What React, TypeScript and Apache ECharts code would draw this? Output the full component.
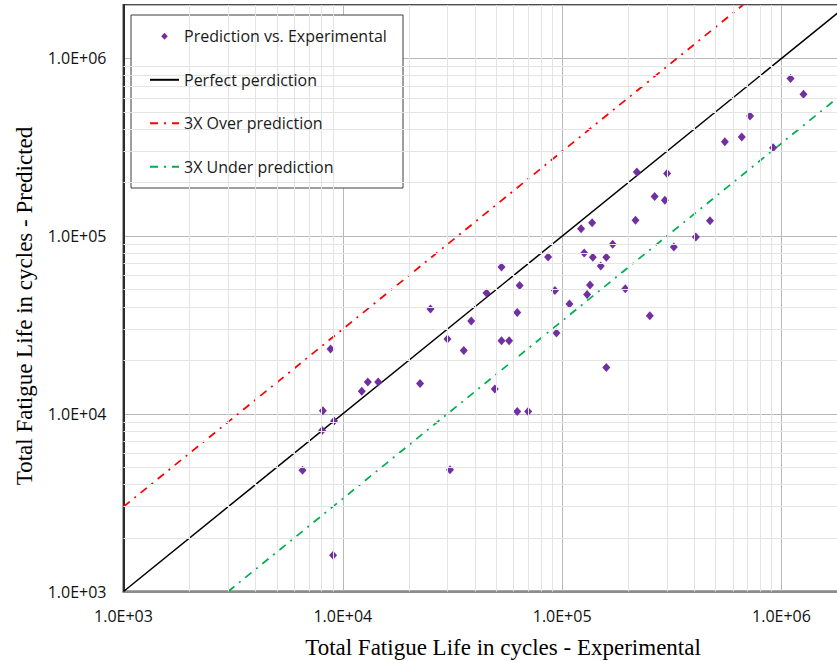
import React, { useEffect, useRef } from "react";
import * as echarts from "echarts";

// Scatter data
const EXPERIMENTAL = [6550, 8050, 8110, 8790, 9030, 9120, 12200, 13000, 14500, 22500, 25100, 30000, 30800, 35600, 38500, 45200, 49300, 52900, 52900, 57300, 62400, 62400, 64000, 70000, 86300, 92700, 94200, 108000, 122000, 126000, 130000, 134000, 137000, 138000, 150000, 159000, 159000, 170000, 194000, 216000, 219000, 251000, 264000, 294000, 301000, 323000, 407000, 472000, 552000, 659000, 719000, 916000, 1100000, 1260000];
const PREDICTED = [4820, 8050, 10400, 23200, 1600, 9100, 13400, 15100, 15100, 14800, 38900, 26400, 4840, 22700, 33300, 47900, 13800, 67000, 25800, 25800, 37200, 10300, 52800, 10300, 76400, 49500, 28500, 41500, 110000, 80400, 47000, 53100, 119000, 76000, 67900, 18200, 76000, 89900, 50500, 123000, 230000, 35600, 167000, 159000, 225000, 86900, 98900, 122000, 340000, 361000, 475000, 314000, 771000, 630000];

// Reference lines
const PERFECT_X = [1000, 2000000];
const PERFECT_Y = [1000, 2000000];
const OVER_X = [1000, 666667];
const OVER_Y = [3000, 2000000];
const UNDER_X = [3000, 2000000];
const UNDER_Y = [1000, 666667];

// Axes
const AXIS_MIN = 1000;
const AXIS_MAX = 2000000;
const DECADES = [1000, 10000, 100000, 1000000];
const MINOR_MULTIPLIERS = [2, 3, 4, 5, 6, 7, 8, 9];

const SERIES_NAMES = [
  "Prediction vs. Experimental",
  "Perfect perdiction",
  "3X Over prediction",
  "3X Under prediction",
];

const PURPLE = "#7030a0";

const zip = (xs: number[], ys: number[]) => xs.map((x, i) => [x, ys[i]]);

const formatTick = (v: number) => {
  const e = Math.log10(v);
  const r = Math.round(e);
  if (Math.abs(e - r) > 1e-6) return "";
  return "1.0E+" + (r < 10 ? "0" + r : String(r));
};

const diamondIconSvg =
  "<svg xmlns='http://www.w3.org/2000/svg' width='29' height='8' viewBox='0 0 29 8'>" +
  "<path d='M14.5 0.5 L17.8 4 L14.5 7.5 L11.2 4 Z' fill='" + PURPLE + "'/></svg>";
const DIAMOND_ICON = "image://data:image/svg+xml;utf8," + encodeURIComponent(diamondIconSvg);

export default function App() {
  const ref = useRef<HTMLDivElement>(null);

  useEffect(() => {
    if (!ref.current) return;
    const chart = echarts.init(ref.current, undefined, { renderer: "svg" });

    const minorValues: number[] = [];
    DECADES.forEach((d) =>
      MINOR_MULTIPLIERS.forEach((m) => {
        if (d * m < AXIS_MAX) minorValues.push(d * m);
      })
    );
    const minorLines = [
      ...minorValues.map((v) => ({ xAxis: v })),
      ...minorValues.map((v) => ({ yAxis: v })),
    ];

    const labelFont = {
      fontFamily: "'Open Sans', sans-serif",
      fontSize: 16,
      color: "#111111",
    };

    const hiddenDot = { color: "rgba(0,0,0,0)", borderWidth: 0 };

    const option: any = {
      animation: false,
      backgroundColor: "#ffffff",
      grid: {
        left: 123.5,
        top: 5,
        width: 724,
        height: 586.5,
        show: true,
        borderColor: "#4d4d4d",
        borderWidth: 2,
        backgroundColor: "#ffffff",
        containLabel: false,
        outerBoundsMode: "none",
      },
      xAxis: {
        type: "log",
        logBase: 10,
        min: AXIS_MIN,
        max: AXIS_MAX,
        axisLine: { show: true, lineStyle: { color: "#8c8c8c", width: 2 } },
        axisTick: { show: false },
        axisLabel: { ...labelFont, margin: 16, formatter: formatTick },
        splitLine: { show: true, lineStyle: { color: "#b8b8b8", width: 1 } },
      },
      yAxis: {
        type: "log",
        logBase: 10,
        min: AXIS_MIN,
        max: AXIS_MAX,
        axisLine: { show: true, lineStyle: { color: "#000000", width: 1.5 } },
        axisTick: { show: false },
        axisLabel: { ...labelFont, margin: 17, formatter: formatTick },
        splitLine: { show: true, lineStyle: { color: "#b8b8b8", width: 1 } },
      },
      legend: {
        data: [
          { name: SERIES_NAMES[0], icon: DIAMOND_ICON },
          { name: SERIES_NAMES[1], itemStyle: hiddenDot },
          { name: SERIES_NAMES[2], itemStyle: hiddenDot },
          { name: SERIES_NAMES[3], itemStyle: hiddenDot },
        ],
        orient: "vertical",
        left: 149,
        top: 26.3,
        padding: 0,
        itemWidth: 29,
        itemHeight: 8,
        itemGap: 23.5,
        z: 6,
        textStyle: {
          fontFamily: "'Open Sans', sans-serif",
          fontSize: 16,
          color: "#1a1a1a",
          lineHeight: 20,
        },
      },
      graphic: [
        {
          type: "rect",
          z: 5,
          shape: { x: 131, y: 15, width: 272, height: 173 },
          style: { fill: "#ffffff", stroke: "#3f3f3f", lineWidth: 1 },
        },
        {
          type: "text",
          z: 5,
          x: 503,
          y: 647,
          style: {
            text: "Total Fatigue Life in cycles - Experimental",
            fontFamily: "'Liberation Serif', 'Times New Roman', serif",
            fontSize: 23,
            fill: "#000000",
            align: "center",
            verticalAlign: "middle",
          },
        },
        {
          type: "text",
          z: 5,
          x: 24,
          y: 306,
          rotation: Math.PI / 2,
          style: {
            text: "Total Fatigue Life in cycles - Predicted",
            fontFamily: "'Liberation Serif', 'Times New Roman', serif",
            fontSize: 23,
            fill: "#000000",
            align: "center",
            verticalAlign: "middle",
          },
        },
      ],
      series: [
        {
          name: "__minor",
          type: "line",
          data: [],
          silent: true,
          z: 1,
          markLine: {
            silent: true,
            symbol: "none",
            label: { show: false },
            lineStyle: { color: "#e4e4e4", width: 1, type: "solid" },
            emphasis: { disabled: true },
            data: minorLines,
          },
        },
        {
          name: SERIES_NAMES[1],
          type: "line",
          data: zip(PERFECT_X, PERFECT_Y),
          symbol: "none",
          z: 3,
          lineStyle: { color: "#000000", width: 1.5 },
          itemStyle: { color: "#000000" },
        },
        {
          name: SERIES_NAMES[2],
          type: "line",
          data: zip(OVER_X, OVER_Y),
          symbol: "none",
          z: 3,
          lineStyle: { color: "#ff0000", width: 1.75, type: [8, 6, 2, 6] },
          itemStyle: { color: "#ff0000" },
        },
        {
          name: SERIES_NAMES[3],
          type: "line",
          data: zip(UNDER_X, UNDER_Y),
          symbol: "none",
          z: 3,
          lineStyle: { color: "#00b050", width: 1.75, type: [8, 6, 2, 6] },
          itemStyle: { color: "#00b050" },
        },
        {
          name: SERIES_NAMES[0],
          type: "scatter",
          data: zip(EXPERIMENTAL, PREDICTED),
          symbol: "diamond",
          symbolSize: [8, 9],
          z: 4,
          itemStyle: { color: PURPLE, opacity: 1 },
        },
      ],
    };

    chart.setOption(option);
    return () => chart.dispose();
  }, []);

  return (
    <div
      style={{
        position: "fixed",
        left: 0,
        top: 0,
        width: 837,
        height: 661,
        overflow: "hidden",
        background: "#ffffff",
      }}
    >
      <div ref={ref} style={{ width: 870, height: 661 }} />
    </div>
  );
}
